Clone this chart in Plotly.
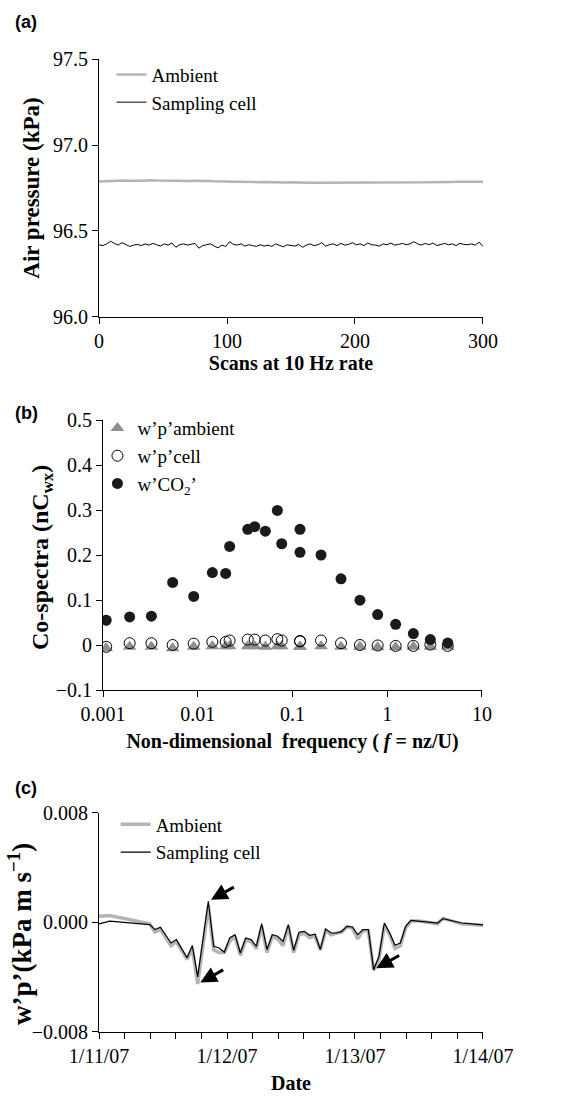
import plotly.graph_objects as go
import pandas as pd

# ---------------- Panel (a) data ----------------
scan_amb = list(range(0, 301, 5))
amb_a = [96.788, 96.790, 96.792, 96.790, 96.793, 96.791, 96.794, 96.792, 96.795, 96.793,
         96.792, 96.790, 96.789, 96.791, 96.790, 96.792, 96.793, 96.791, 96.789, 96.787,
         96.787, 96.786, 96.787, 96.785, 96.786, 96.784, 96.785, 96.783, 96.784, 96.782,
         96.783, 96.781, 96.780, 96.781, 96.780, 96.780, 96.780, 96.781, 96.780, 96.780,
         96.781, 96.780, 96.780, 96.781, 96.780, 96.780, 96.781, 96.779, 96.780, 96.782,
         96.781, 96.783, 96.784, 96.783, 96.785, 96.785, 96.786, 96.785, 96.786, 96.786,
         96.786]
scan_cell = list(range(0, 301, 3))
cell_a = [96.420, 96.415, 96.425, 96.440, 96.428, 96.418, 96.432, 96.420, 96.410, 96.418,
          96.422, 96.415, 96.425, 96.418, 96.428, 96.420, 96.412, 96.425, 96.418, 96.430,
          96.405, 96.420, 96.425, 96.418, 96.422, 96.428, 96.400, 96.415, 96.420, 96.425,
          96.412, 96.402, 96.418, 96.410, 96.438, 96.422, 96.418, 96.425, 96.412, 96.420,
          96.415, 96.410, 96.420, 96.412, 96.418, 96.410, 96.425, 96.415, 96.408, 96.420,
          96.415, 96.412, 96.422, 96.405, 96.418, 96.425, 96.415, 96.420, 96.432, 96.412,
          96.420, 96.425, 96.415, 96.428, 96.418, 96.422, 96.432, 96.420, 96.425, 96.415,
          96.430, 96.420, 96.418, 96.412, 96.425, 96.420, 96.430, 96.418, 96.422, 96.428,
          96.420, 96.425, 96.438, 96.425, 96.418, 96.428, 96.420, 96.430, 96.415, 96.422,
          96.428, 96.420, 96.425, 96.415, 96.428, 96.422, 96.420, 96.425, 96.418, 96.435,
          96.410]

# ---------------- Panel (b) data ----------------
freq_b = [0.00108, 0.00191, 0.00324, 0.00543, 0.00906, 0.01426, 0.0197, 0.0217, 0.0337,
          0.0399, 0.0517, 0.0692, 0.0769, 0.12, 0.12, 0.2, 0.325, 0.515, 0.792, 1.227,
          1.885, 2.85, 4.35]
co2_b = [0.055, 0.0625, 0.064, 0.139, 0.108, 0.161, 0.159, 0.219, 0.257, 0.263, 0.253,
         0.299, 0.225, 0.257, 0.206, 0.200, 0.147, 0.0997, 0.0677, 0.046, 0.0253, 0.012,
         0.0045]
cell_b = [-0.004, 0.004, 0.004, 0.0, 0.003, 0.007, 0.007, 0.010, 0.012, 0.012, 0.010,
          0.013, 0.010, 0.009, 0.008, 0.010, 0.004, 0.0, -0.001, -0.002, -0.002, 0.001,
          -0.002]
amb_b = [-0.007, -0.004, -0.004, -0.007, -0.004, -0.003, -0.003, -0.003, -0.003, -0.003,
         -0.004, -0.003, -0.003, -0.004, -0.004, -0.003, -0.004, -0.004, -0.005, -0.005,
         -0.004, -0.004, -0.004]
freq_ticks = [0.001, 0.01, 0.1, 1, 10]
freq_ticktext = ["0.001", "0.01", "0.1", "1", "10"]
cosp_ticks = [-0.1, 0, 0.1, 0.2, 0.3, 0.4, 0.5]
cosp_ticktext = ["\u22120.1", "0", "0.1", "0.2", "0.3", "0.4", "0.5"]

# ---------------- Panel (c) data ----------------
hours_c = [0, 2, 9.5, 10.5, 11.5, 13.5, 14.5, 16.5, 17.5, 18.5, 20.5, 21.5, 22.5, 23.5,
           24.5, 25.5, 26.5, 27.5, 28.5, 29.5, 30.5, 31.5, 32.5, 33.5, 34.5, 35.5, 36.5,
           37.5, 38.5, 39.5, 40.5, 41.5, 42.5, 43.5, 44.5, 45.5, 46.5, 47.5, 48.5, 49.5,
           50.5, 51.5, 52.5, 53.5, 54.5, 55.5, 56.5, 57.5, 58.5, 60, 62, 63.5, 64.5, 66.5,
           68, 72]
cell_c = [-0.0001, 0.0001, -0.00016, -0.00052, -0.00035, -0.0015, -0.00125, -0.00258,
          -0.00169, -0.00398, 0.00155, -0.00174, -0.00186, -0.00218, -0.00113, -0.00089,
          -0.00223, -0.00113, -0.00125, -0.00174, -0.00009, -0.00198, -0.00089, -0.00101,
          -0.00138, -0.00016, -0.00203, -0.00072, -0.00065, -0.00094, -0.00086, -0.00198,
          -0.00047, -0.00077, -0.00077, -0.00065, -0.00028, -0.00033, -0.00089, -0.00052,
          -0.00052, -0.00345, -0.00247, -0.00004, -0.00077, -0.00167, -0.0015, -0.00028,
          0.00016, 0.00009, 0.0, -0.00004, 0.00028, 0.00009, -0.00004, -0.00018]
amb_c = [0.00045, 0.0005, -0.0001, -0.0007, -0.0005, -0.0017, -0.0014, -0.0027, -0.0019,
         -0.0045, 0.0012, -0.0020, -0.0022, -0.0022, -0.0014, -0.0010, -0.0024, -0.0013,
         -0.0014, -0.0019, -0.0003, -0.0022, -0.0010, -0.0012, -0.0017, -0.0003, -0.0022,
         -0.0009, -0.0008, -0.0011, -0.0010, -0.0020, -0.0006, -0.0009, -0.0008, -0.0007,
         -0.0003, -0.0004, -0.0012, -0.0006, -0.0006, -0.0035, -0.0027, -0.0002, -0.0009,
         -0.0019, -0.0017, -0.0004, 0.0001, 0.0001, 0.0, -0.0001, 0.0003, 0.0001, -0.0001,
         -0.0002]
date_ticks = ["2007-01-11", "2007-01-12", "2007-01-13", "2007-01-14"]
date_ticktext = ["1/11/07", "1/12/07", "1/13/07", "1/14/07"]
wp_ticks = [-0.008, 0.0, 0.008]
wp_ticktext = ["\u22120.008", "0.000", "0.008"]

times_c = pd.Timestamp("2007-01-11") + pd.to_timedelta(hours_c, unit="h")

SERIF = "Liberation Serif"
GREY = "#b4b4b4"
TRI_GREY = "#8f8f8f"

fig = go.Figure()

# Panel (a)
fig.add_trace(go.Scatter(x=scan_amb, y=amb_a, mode="lines", name="Ambient",
                         line=dict(color=GREY, width=2.5), xaxis="x", yaxis="y", legend="legend"))
fig.add_trace(go.Scatter(x=scan_cell, y=cell_a, mode="lines", name="Sampling cell",
                         line=dict(color="black", width=1), xaxis="x", yaxis="y", legend="legend"))

# Panel (b)
fig.add_trace(go.Scatter(x=freq_b, y=amb_b, mode="markers", name="w\u2019p\u2019ambient",
                         marker=dict(symbol="triangle-up", size=12, color=TRI_GREY),
                         xaxis="x2", yaxis="y2", legend="legend2"))
fig.add_trace(go.Scatter(x=freq_b, y=cell_b, mode="markers", name="w\u2019p\u2019cell",
                         marker=dict(symbol="circle-open", size=11, color="black", line=dict(width=1)),
                         xaxis="x2", yaxis="y2", legend="legend2"))
fig.add_trace(go.Scatter(x=freq_b, y=co2_b, mode="markers", name="w\u2019CO<sub>2</sub>\u2019",
                         marker=dict(symbol="circle", size=11, color="#1a1a1a"),
                         xaxis="x2", yaxis="y2", legend="legend2"))

# Panel (c)
fig.add_trace(go.Scatter(x=times_c, y=amb_c, mode="lines", name="Ambient",
                         line=dict(color=GREY, width=3.5), xaxis="x3", yaxis="y3", legend="legend3"))
fig.add_trace(go.Scatter(x=times_c, y=cell_c, mode="lines", name="Sampling cell",
                         line=dict(color="black", width=1.2), xaxis="x3", yaxis="y3", legend="legend3"))

axis_common = dict(showline=True, linecolor="black", linewidth=1, ticks="outside",
                   ticklen=6, tickcolor="black", tickwidth=1, showgrid=False, zeroline=False,
                   automargin=False,
                   tickfont=dict(family=SERIF, size=20, color="black"))
xtitle_font = dict(family=SERIF, size=20, color="black")

fig.update_layout(
    width=587, height=1101, margin=dict(l=0, r=0, t=0, b=0),
    paper_bgcolor="white", plot_bgcolor="white",
    font=dict(family=SERIF, color="black"),
    xaxis=dict(domain=[0.1687, 0.8228], range=[0, 300], tickvals=[0, 100, 200, 300],
               anchor="y", title=dict(text="<b>Scans at 10 Hz rate</b>", font=xtitle_font, standoff=4),
               **axis_common),
    yaxis=dict(domain=[0.7121, 0.9464], range=[96.0, 97.5], tickvals=[96.0, 96.5, 97.0, 97.5],
               tickformat=".1f", anchor="x",
               title=dict(text="<b>Air pressure (kPa)</b>",
                          font=dict(family=SERIF, size=23, color="black"), standoff=6),
               **axis_common),
    xaxis2=dict(domain=[0.1755, 0.8211], type="log", range=[-3, 1], tickvals=freq_ticks,
                ticktext=freq_ticktext, anchor="y2",
                title=dict(text="<b>Non-dimensional  frequency ( <i>f</i> = nz/U)</b>",
                           font=xtitle_font, standoff=10),
                **axis_common),
    yaxis2=dict(domain=[0.3733, 0.6185], range=[-0.1, 0.5], tickvals=cosp_ticks,
                ticktext=cosp_ticktext, anchor="x2", **axis_common),
    xaxis3=dict(domain=[0.1687, 0.8228], type="date", range=["2007-01-11", "2007-01-14"],
                tickvals=date_ticks, ticktext=date_ticktext, anchor="y3",
                minor=dict(ticks="outside", dtick=4.8 * 3600 * 1000, tick0="2007-01-11",
                           ticklen=6, tickcolor="black"),
                title=dict(text="<b>Date</b>", font=xtitle_font, standoff=10),
                **axis_common),
    yaxis3=dict(domain=[0.0627, 0.2616], range=[-0.008, 0.008], tickvals=wp_ticks,
                ticktext=wp_ticktext, anchor="x3", **axis_common),
    legend=dict(x=0.19, y=0.9495, xanchor="left", yanchor="top", bgcolor="rgba(0,0,0,0)",
                font=dict(family=SERIF, size=19, color="black"), itemwidth=30,
                tracegroupgap=0),
    legend2=dict(x=0.166, y=0.6284, xanchor="left", yanchor="top", bgcolor="rgba(0,0,0,0)",
                 font=dict(family=SERIF, size=19, color="black"), itemwidth=30),
    legend3=dict(x=0.197, y=0.2684, xanchor="left", yanchor="top", bgcolor="rgba(0,0,0,0)",
                 font=dict(family=SERIF, size=19, color="black"), itemwidth=30),
    showlegend=True,
)

# Rotated y-axis titles for panels (b) and (c)
fig.add_annotation(text="<b>Co-spectra (nC<sub>wx</sub>)</b>", textangle=-90,
                   x=42 / 587, y=1 - 558 / 1101, xref="paper", yref="paper",
                   xanchor="center", yanchor="middle", showarrow=False,
                   font=dict(family=SERIF, size=24, color="black"))
fig.add_annotation(text="<b>w\u2019p\u2019(kPa m s<sup>\u22121</sup>)</b>", textangle=-90,
                   x=20 / 587, y=1 - 934 / 1101, xref="paper", yref="paper",
                   xanchor="center", yanchor="middle", showarrow=False,
                   font=dict(family=SERIF, size=27, color="black"))

# Panel labels
for lbl, yy in [("(a)", 1 - 22 / 1101), ("(b)", 1 - 413 / 1101), ("(c)", 1 - 788 / 1101)]:
    fig.add_annotation(text="<b>%s</b>" % lbl, x=13 / 587, y=yy, xref="paper", yref="paper",
                       xanchor="left", yanchor="middle", showarrow=False,
                       font=dict(family="Liberation Sans", size=18, color="black"))

# Arrows in panel (c) pointing at the notable points
i_peak = cell_c.index(max(cell_c))
i_min = amb_c.index(min(amb_c))
i_min2 = cell_c.index(min(cell_c[30:]))
for idx, series in [(i_peak, cell_c), (i_min, amb_c), (i_min2, cell_c)]:
    fig.add_annotation(x=times_c[idx], y=series[idx], xref="x3", yref="y3", text="",
                       showarrow=True, arrowhead=2, arrowsize=1.1, arrowwidth=3,
                       arrowcolor="black", ax=27, ay=-15, standoff=3)

fig.write_html("out.html", config={"displayModeBar": False},
               post_script="document.body.style.margin='0';document.body.style.overflow='hidden';")
